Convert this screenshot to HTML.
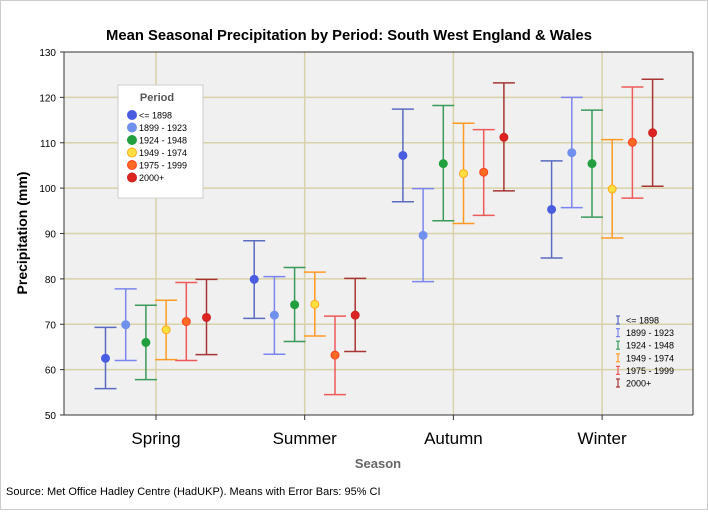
<!DOCTYPE html>
<html><head><meta charset="utf-8"><style>
body{margin:0;background:#fff;font-family:"Liberation Sans",sans-serif}
</style></head><body>
<svg width="708" height="510" xmlns="http://www.w3.org/2000/svg" font-family="Liberation Sans, sans-serif">
<rect x="0.5" y="0.5" width="707" height="509" fill="#fff" stroke="#ccc"/>
<text x="349" y="40" text-anchor="middle" font-size="14.8" font-weight="bold">Mean Seasonal Precipitation by Period: South West England &amp; Wales</text>
<rect x="64" y="52" width="629" height="363" fill="#f0f0f0"/>
<g id="grid"></g>
<g id="marks"></g>
<line x1="64" y1="52" x2="693" y2="52" stroke="#333"/>
<line x1="693" y1="52" x2="693" y2="415" stroke="#333"/>
<line x1="64" y1="52" x2="64" y2="415" stroke="#333"/>
<line x1="64" y1="415" x2="693" y2="415" stroke="#333"/>
<g id="axes"></g>
<text transform="translate(27,233) rotate(-90)" text-anchor="middle" font-size="14" font-weight="bold">Precipitation (mm)</text>
<text x="378" y="468" text-anchor="middle" font-size="13" font-weight="bold" fill="#666">Season</text>
<text x="6" y="495" font-size="11">Source: Met Office Hadley Centre (HadUKP). Means with Error Bars: 95% CI</text>
<g>
<rect x="118" y="85" width="85" height="113" fill="#fff" stroke="#ccc"/>
<text x="157" y="101" text-anchor="middle" font-size="11" font-weight="bold" fill="#555">Period</text>
<g id="leg1"></g>
</g>
<g id="leg2"></g>
</svg>
<script>
const categories=["Spring","Summer","Autumn","Winter"];
const periods=["<= 1898","1899 - 1923","1924 - 1948","1949 - 1974","1975 - 1999","2000+"];
const yTicks=[50,60,70,80,90,100,110,120,130];
const means=[[62.5,79.9,107.2,95.3],[69.9,72.0,89.6,107.8],[66.0,74.3,105.4,105.4],[68.8,74.4,103.2,99.8],[70.6,63.2,103.5,110.1],[71.5,72.0,111.2,112.2]];
const lows=[[55.8,71.3,97.0,84.6],[62.0,63.4,79.4,95.7],[57.8,66.2,92.8,93.6],[62.2,67.4,92.2,89.0],[62.0,54.5,94.0,97.8],[63.3,64.0,99.4,100.4]];
const highs=[[69.3,88.4,117.4,106.0],[77.8,80.5,99.9,120.0],[74.2,82.5,118.2,117.2],[75.3,81.5,114.3,110.7],[79.2,71.8,112.9,122.3],[79.9,80.1,123.2,124.0]];
const lineCol=["#5a6bc0","#7b85f0","#3a9a5a","#ff9a22","#ee5a5a","#a83535"];
const dotCol=["#4a5ce0","#7090ee","#22a040","#ffe040","#ff6a22","#dd2222"];
const dotStroke=["#4a5ce0","#7090ee","#22a040","#ffaa22","#ff4422","#cc2222"];
const NS="http://www.w3.org/2000/svg";
const y=v=>415-(v-50)*363/80;
const x=(c,s)=>156+c*148.7+(s-2.5)*20.2;
function mk(p,t,a){const e=document.createElementNS(NS,t);for(const k in a)e.setAttribute(k,a[k]);document.getElementById(p).appendChild(e);return e;}
yTicks.forEach(t=>{
 if(t>50&&t<130){const l=mk("grid","line",{x1:64,x2:693,y1:y(t),y2:y(t),stroke:"#d8d2a8","stroke-width":1.5});
 
 }
 mk("axes","line",{x1:60,x2:64,y1:y(t),y2:y(t),stroke:"#333"});
 const tx=mk("axes","text",{x:56,y:y(t)+4,"text-anchor":"end","font-size":10});tx.textContent=t;
 
 
});
categories.forEach((c,i)=>{
 const cx=156+i*148.7;
 const g=mk("grid","line",{x1:cx,x2:cx,y1:52,y2:415,stroke:"#d8d2a8","stroke-width":1.5});
 
 
 mk("axes","line",{x1:cx,x2:cx,y1:415,y2:420,stroke:"#333"});
 const t=mk("axes","text",{x:cx,y:444,"text-anchor":"middle","font-size":17});t.textContent=c;
 
 
});
periods.forEach((p,s)=>{
 categories.forEach((c,i)=>{
  const px=x(i,s);
  const eb=mk("marks","path",{d:`M${px-11},${y(highs[s][i])}H${px+11}M${px},${y(highs[s][i])}V${y(lows[s][i])}M${px-11},${y(lows[s][i])}H${px+11}`,stroke:lineCol[s],"stroke-width":1.5,fill:"none"});
  
  
  const d=mk("marks","circle",{cx:px,cy:y(means[s][i]),r:4,fill:dotCol[s],stroke:dotStroke[s]});
  
  
 });
 const ly=115+s*12.5;
 const lc=mk("leg1","circle",{cx:132,cy:ly,r:4.5,fill:dotCol[s],stroke:dotStroke[s]});
 
 
 const lt=mk("leg1","text",{x:139,y:ly+3.5,"font-size":9});lt.textContent=p;
 
 
 const ry=320+s*12.6;
 mk("leg2","path",{d:`M616,${ry-4}h4M618,${ry-4}v8M616,${ry+4}h4`,stroke:lineCol[s],"stroke-width":1.2,fill:"none"});
 const rt=mk("leg2","text",{x:626,y:ry+3.5,"font-size":9});rt.textContent=p;
 
 
});
</script>
</body></html>
